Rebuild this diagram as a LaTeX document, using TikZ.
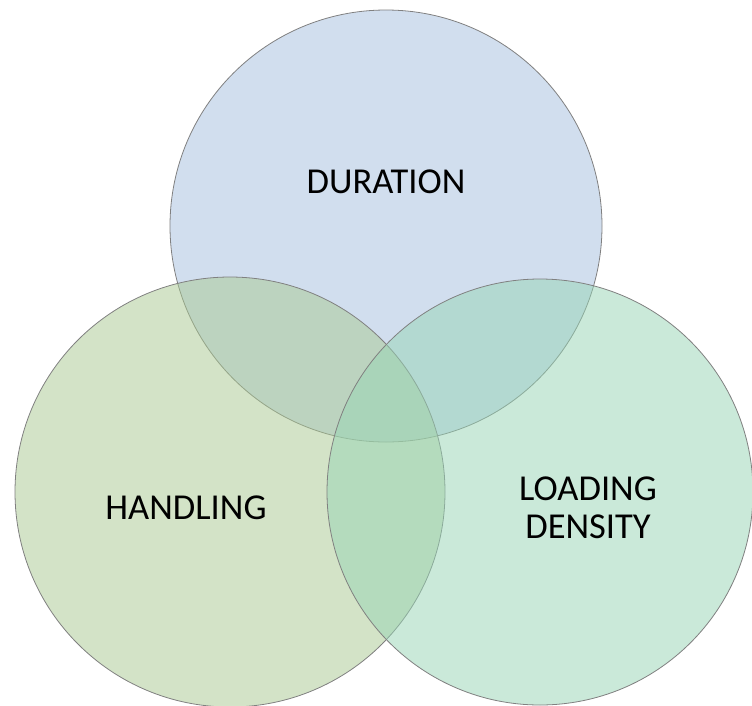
\documentclass[tikz,border=0pt]{standalone}
\usepackage{fontspec}
\setmainfont{Carlito}
\begin{document}
\begin{tikzpicture}[x=1pt,y=-1pt,
  venn/.style={circle, draw=black!50, line width=0.8pt, fill opacity=0.5, text opacity=1, inner sep=0pt},
  lbl/.style={font=\fontsize{36.5}{38}\selectfont, align=center, text=black}]
\useasboundingbox (0,0) rectangle (752,705);
\definecolor{ctop}{RGB}{165,191,223}
\definecolor{cleft}{RGB}{169,201,145}
\definecolor{cright}{RGB}{151,213,181}
\fill[white] (0,0) rectangle (752,705);
\node[venn, fill=ctop, minimum size=432pt] (dur) at (386,226) {};
\node[venn, fill=cleft, minimum size=430pt] (han) at (230,492) {};
\node[venn, fill=cright, minimum size=426pt] (load) at (540,492) {};
\node[lbl] (tdur) at (386,182) {DURATION};
\node[lbl] (than) at (186,508) {HANDLING};
\node[lbl] (tload) at (588,508) {LOADING\\DENSITY};
\end{tikzpicture}
\end{document}
